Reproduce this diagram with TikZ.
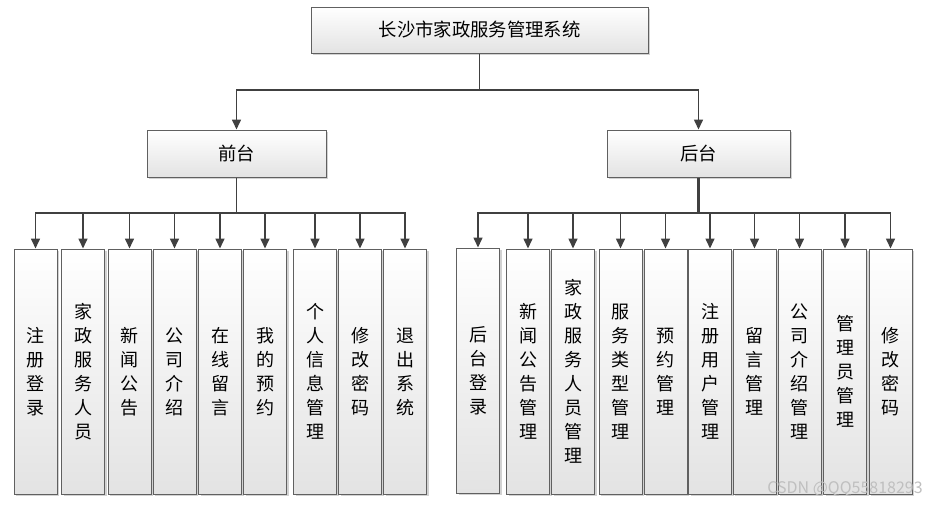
\documentclass[tikz,border=0pt]{standalone}
\usepackage{fontspec}
\setmainfont{Noto Sans CJK SC}
\usetikzlibrary{arrows.meta,shadows}
\begin{document}
\begin{tikzpicture}[x=0.75pt,y=-0.75pt,
 box/.style={draw=gray!75!black, line width=0.75pt, top color=white, bottom color=gray!22,
   drop shadow={shadow xshift=1.5pt,shadow yshift=-1.5pt,fill=gray!70,opacity=0.5},
   inner sep=0pt, font=\fontsize{13.75}{17}\selectfont},
 tall/.style={box, minimum width=32.25pt, minimum height=183.75pt, align=center,
   font=\fontsize{13.5}{18}\selectfont},
 arr/.style={draw=black!75, line width=1.2pt, -{Triangle[length=7.5pt,width=6.75pt]}},
 ln/.style={draw=black!75, line width=1.2pt}]
\useasboundingbox (0,0) rectangle (940,507);

\node[box, minimum width=252.75pt, minimum height=34.5pt] (top) at (479.5,30) {长沙市家政服务管理系统};
\node[box, minimum width=134.25pt, minimum height=35.25pt] (fq) at (236.5,153.5) {前台};
\node[box, minimum width=137.25pt, minimum height=35.25pt] (hq) at (698.5,153.5) {后台};

\coordinate (busT) at (479.5,90);
\draw[arr] (top.south) -- (busT) -| (fq.north);
\draw[arr] (busT) -| (hq.north);

% front children
\node[tall] (a1) at (35.5,371.5) {注\\册\\登\\录};
\node[tall] (a2) at (83,371.5) {家\\政\\服\\务\\人\\员};
\node[tall] (a3) at (129.5,371.5) {新\\闻\\公\\告};
\node[tall] (a4) at (174.5,371.5) {公\\司\\介\\绍};
\node[tall] (a5) at (220,371.5) {在\\线\\留\\言};
\node[tall] (a6) at (265,371.5) {我\\的\\预\\约};
\node[tall] (a7) at (315,371.5) {个\\人\\信\\息\\管\\理};
\node[tall] (a8) at (360,371.5) {修\\改\\密\\码};
\node[tall] (a9) at (405,371.5) {退\\出\\系\\统};

\coordinate (busL) at (236.5,213);
\draw[ln] (fq.south) -- (busL);
\foreach \n in {a1,a2,a3,a4,a5,a6,a7,a8,a9}
  \draw[arr] (busL) -| (\n.north);

% back children
\node[tall] (b1) at (478,370.5) {后\\台\\登\\录};
\node[tall] (b2) at (528,371.5) {新\\闻\\公\\告\\管\\理};
\node[tall] (b3) at (573,371.5) {家\\政\\服\\务\\人\\员\\管\\理};
\node[tall] (b4) at (620.5,371.5) {服\\务\\类\\型\\管\\理};
\node[tall] (b5) at (665.5,371.5) {预\\约\\管\\理};
\node[tall] (b6) at (710,371.5) {注\\册\\用\\户\\管\\理};
\node[tall] (b7) at (754.5,371.5) {留\\言\\管\\理};
\node[tall] (b8) at (799.5,371.5) {公\\司\\介\\绍\\管\\理};
\node[tall] (b9) at (845,371.5) {管\\理\\员\\管\\理};
\node[tall] (b10) at (890.5,371.5) {修\\改\\密\\码};

\coordinate (busR) at (698.5,213);
\draw[ln, line width=1.6pt] (hq.south) -- (busR);
\foreach \n in {b1,b2,b3,b4,b5,b6,b7,b8,b9,b10}
  \draw[arr] (busR) -| (\n.north);

\node[text=gray!50, font=\fontsize{12}{14}\selectfont] (wm) at (845,489) {CSDN @QQ55818293};
\end{tikzpicture}
\end{document}
